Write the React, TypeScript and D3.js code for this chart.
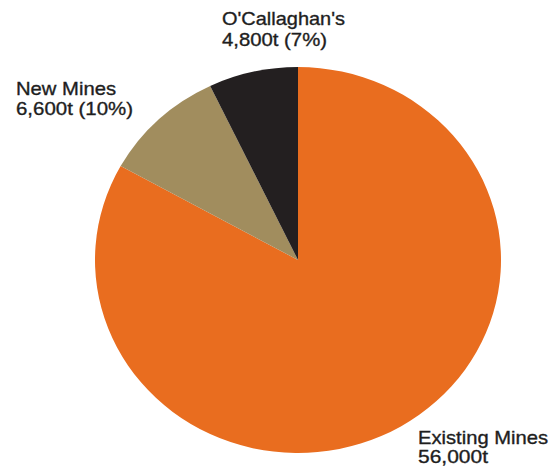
import React from "react";
import * as d3 from "d3";

const categories = ["Existing Mines", "New Mines", "O'Callaghan's"];
const values = [56000, 6600, 4800];
const labelLines = [
  ["Existing Mines", "56,000t"],
  ["New Mines", "6,600t (10%)"],
  ["O'Callaghan's", "4,800t (7%)"],
];
const colors = ["#E96D1F", "#A18D5E", "#231F20"];

const W = 552;
const H = 472;
const cx = 298;
const cy = 260;
const rx = 203;
const ry = 193;

// label layout: [x, baseline1, baseline2, width1, width2]
const labelPos = [
  [418, 444, 463, 130, 70],
  [16, 95, 115, 100, 117],
  [222, 25, 46, 123, 105],
];

export default function App() {
  const pie = d3.pie<number>().sort(null).value((d) => d)(values);
  const arc = d3.arc<d3.PieArcDatum<number>>().innerRadius(0).outerRadius(rx);
  return (
    <svg
      width={W}
      height={H}
      style={{ position: "absolute", left: 0, top: 0, background: "#fff" }}
    >
      <g transform={`translate(${cx},${cy}) scale(1,${ry / rx})`}>
        {pie.map((p, i) => (
          <path key={categories[i]} d={arc(p) || ""} fill={colors[i]} />
        ))}
      </g>
      {labelLines.map((lines, i) => {
        const [x, b1, b2, w1, w2] = labelPos[i];
        return (
          <g
            key={categories[i]}
            fontFamily="'Liberation Sans Narrow', 'Liberation Sans', Arial, sans-serif"
            fontSize={19}
            fill="#1e1e1e"
            stroke="#1e1e1e"
            strokeWidth={0.35}
          >
            <text x={x} y={b1} textLength={w1} lengthAdjust="spacingAndGlyphs">
              {lines[0]}
            </text>
            <text x={x} y={b2} textLength={w2} lengthAdjust="spacingAndGlyphs">
              {lines[1]}
            </text>
          </g>
        );
      })}
    </svg>
  );
}
